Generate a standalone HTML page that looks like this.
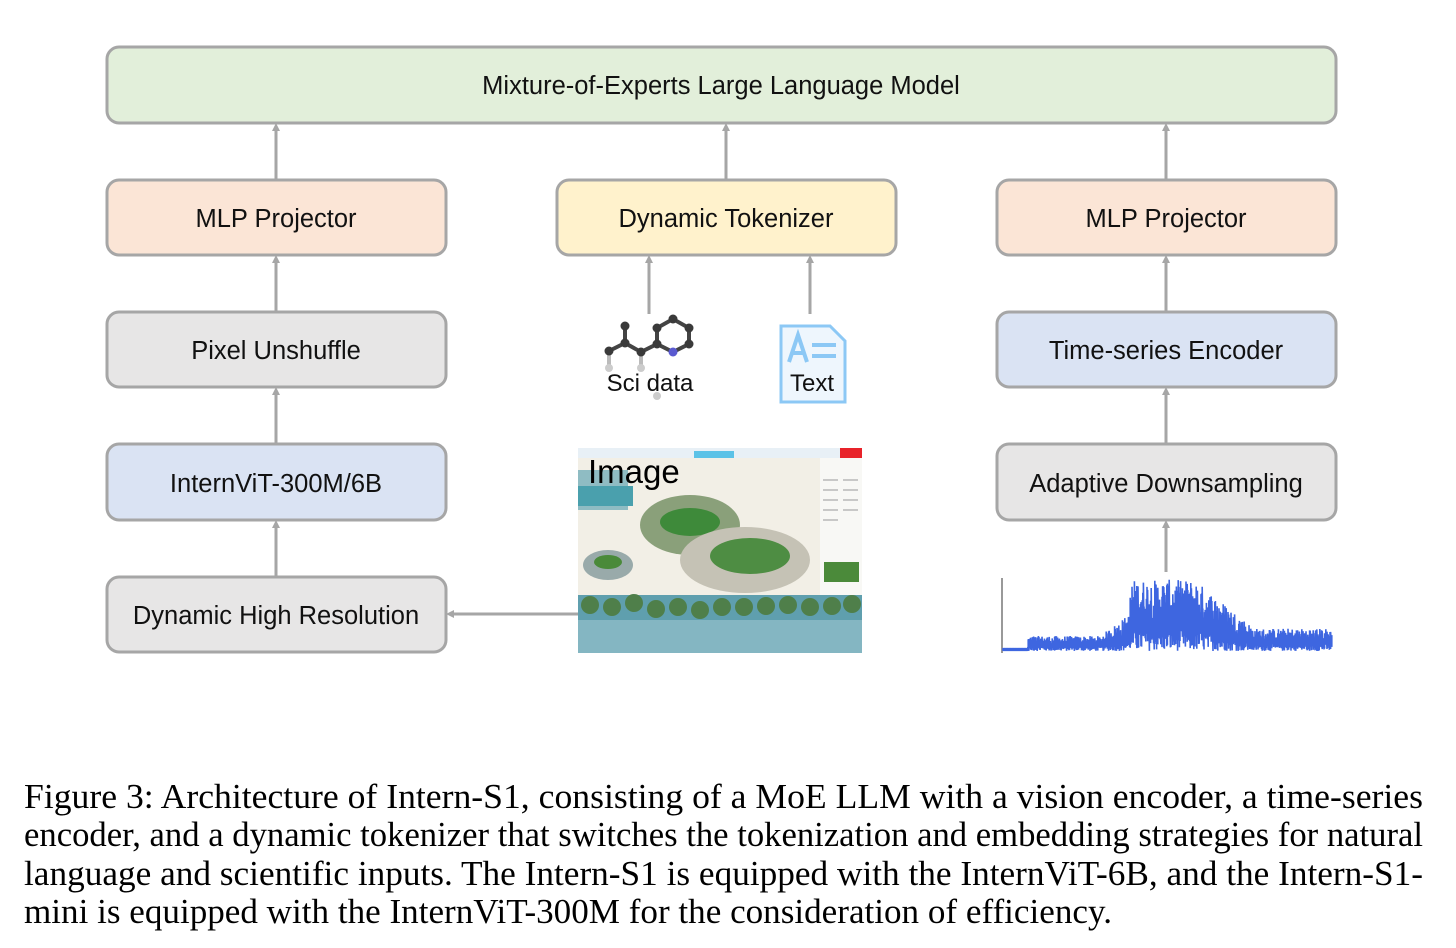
<!DOCTYPE html>
<html><head><meta charset="utf-8"><style>
html,body{margin:0;padding:0;background:#fff;}
svg{display:block}
.b{stroke:#a6a6a6;stroke-width:3}
.l{font-family:"Liberation Sans",sans-serif;font-size:25.5px;fill:#111;text-anchor:middle}
.c{font-family:"Liberation Serif",serif;font-size:35px;fill:#000}
.a{stroke:#a6a6a6;stroke-width:3;fill:none}
</style></head><body>
<svg width="1456" height="948" viewBox="0 0 1456 948" xmlns="http://www.w3.org/2000/svg">
<defs><marker id="m" markerWidth="8" markerHeight="8" refX="5" refY="4" orient="auto" markerUnits="userSpaceOnUse"><path d="M0,0 L8,4 L0,8 z" fill="#a6a6a6"/></marker></defs>
<rect x="107" y="47" width="1229" height="76" rx="12" fill="#e2efda" class="b"/>
<text x="721" y="94" class="l">Mixture-of-Experts Large Language Model</text>

<rect x="107" y="180" width="339" height="75" rx="12" fill="#fbe5d6" class="b"/>
<text x="276" y="227" class="l">MLP Projector</text>
<rect x="557" y="180" width="339" height="75" rx="12" fill="#fff2cc" class="b"/>
<text x="726" y="227" class="l">Dynamic Tokenizer</text>
<rect x="997" y="180" width="339" height="75" rx="12" fill="#fbe5d6" class="b"/>
<text x="1166" y="227" class="l">MLP Projector</text>

<rect x="107" y="312" width="339" height="75" rx="12" fill="#e7e6e6" class="b"/>
<text x="276" y="359" class="l">Pixel Unshuffle</text>
<rect x="997" y="312" width="339" height="75" rx="12" fill="#dae3f3" class="b"/>
<text x="1166" y="359" class="l">Time-series Encoder</text>

<rect x="107" y="444" width="339" height="76" rx="12" fill="#dae3f3" class="b"/>
<text x="276" y="492" class="l">InternViT-300M/6B</text>
<rect x="997" y="444" width="339" height="76" rx="12" fill="#e7e6e6" class="b"/>
<text x="1166" y="492" class="l">Adaptive Downsampling</text>

<rect x="107" y="577" width="339" height="75" rx="12" fill="#e7e6e6" class="b"/>
<text x="276" y="624" class="l">Dynamic High Resolution</text>

<!-- arrows -->
<line x1="276" y1="179" x2="276" y2="126" class="a" marker-end="url(#m)"/>
<line x1="726" y1="179" x2="726" y2="126" class="a" marker-end="url(#m)"/>
<line x1="1166" y1="179" x2="1166" y2="126" class="a" marker-end="url(#m)"/>
<line x1="276" y1="311" x2="276" y2="258" class="a" marker-end="url(#m)"/>
<line x1="276" y1="443" x2="276" y2="390" class="a" marker-end="url(#m)"/>
<line x1="276" y1="576" x2="276" y2="523" class="a" marker-end="url(#m)"/>
<line x1="1166" y1="311" x2="1166" y2="258" class="a" marker-end="url(#m)"/>
<line x1="1166" y1="443" x2="1166" y2="390" class="a" marker-end="url(#m)"/>
<line x1="1166" y1="572" x2="1166" y2="523" class="a" marker-end="url(#m)"/>
<line x1="649" y1="314" x2="649" y2="258" class="a" marker-end="url(#m)"/>
<line x1="810" y1="314" x2="810" y2="258" class="a" marker-end="url(#m)"/>
<line x1="578" y1="614" x2="449" y2="614" class="a" marker-end="url(#m)"/>

<!-- molecule -->
<g stroke="#444" stroke-width="4" fill="none">
<path d="M609,351 L625,343 L641,352 L657,344 L657,328 L673,319 L689,328 L689,344 L673,352 L657,344"/>
<path d="M625,343 L625,326"/>
<path d="M609,351 L609,368" stroke="#bbb"/><path d="M641,352 L641,368" stroke="#bbb"/>
</g>
<g fill="#3a3a3a"><circle cx="609" cy="351" r="4.5"/><circle cx="625" cy="343" r="4.5"/><circle cx="625" cy="326" r="4.5"/><circle cx="641" cy="352" r="4.5"/><circle cx="657" cy="344" r="4.5"/><circle cx="657" cy="328" r="4.5"/><circle cx="673" cy="319" r="4.5"/><circle cx="689" cy="328" r="4.5"/><circle cx="689" cy="344" r="4.5"/></g>
<circle cx="673" cy="352" r="4.5" fill="#5a5ad0"/>
<circle cx="609" cy="368" r="4" fill="#ccc"/><circle cx="641" cy="368" r="4" fill="#ccc"/><circle cx="657" cy="396" r="4" fill="#ccc"/>
<text x="650" y="391" class="l" style="font-size:24px">Sci data</text>
<!-- text doc icon -->
<path d="M781,326 L830,326 L845,341 L845,402 L781,402 Z" fill="#eef6fd" stroke="#8cc8f5" stroke-width="3"/>
<path d="M789,362 L798,335 L807,362 M792,353 L804,353" stroke="#8cc8f5" stroke-width="4" fill="none"/>
<path d="M812,345 L836,345 M812,356 L836,356" stroke="#8cc8f5" stroke-width="4"/>
<text x="812" y="391" class="l" style="font-size:24px">Text</text>

<!-- image approximation -->
<g>
<rect x="578" y="448" width="284" height="205" fill="#f2efe6"/>
<rect x="578" y="448" width="284" height="10" fill="#e8f0f6"/>
<rect x="840" y="448" width="22" height="10" fill="#e8232a"/>
<rect x="694" y="451" width="40" height="7" fill="#5bc2e7"/>
<rect x="578" y="470" width="50" height="40" fill="#8fbcc3"/>
<rect x="578" y="486" width="55" height="20" fill="#4aa0ad"/>
<rect x="820" y="458" width="42" height="150" fill="#f8f8f5"/>
<g stroke="#999" stroke-width="1"><line x1="823" y1="480" x2="838" y2="480"/><line x1="823" y1="490" x2="838" y2="490"/><line x1="823" y1="500" x2="838" y2="500"/><line x1="823" y1="510" x2="838" y2="510"/><line x1="823" y1="520" x2="838" y2="520"/><line x1="843" y1="480" x2="858" y2="480"/><line x1="843" y1="490" x2="858" y2="490"/><line x1="843" y1="500" x2="858" y2="500"/><line x1="843" y1="510" x2="858" y2="510"/></g>
<rect x="824" y="562" width="35" height="20" fill="#4b8a3a"/>
<ellipse cx="690" cy="525" rx="50" ry="30" fill="#8aa07a"/>
<ellipse cx="690" cy="522" rx="30" ry="14" fill="#3e8a3a"/>
<ellipse cx="745" cy="560" rx="65" ry="33" fill="#c5c2b5"/>
<ellipse cx="750" cy="556" rx="40" ry="18" fill="#4e8d43"/>
<ellipse cx="608" cy="565" rx="25" ry="15" fill="#9aa"/>
<ellipse cx="608" cy="562" rx="14" ry="7" fill="#4a8a3a"/>
<rect x="578" y="595" width="284" height="58" fill="#5f9fae"/>
<g fill="#4f7f4a"><circle cx="590" cy="605" r="9"/><circle cx="612" cy="607" r="9"/><circle cx="634" cy="603" r="9"/><circle cx="656" cy="609" r="9"/><circle cx="678" cy="607" r="9"/><circle cx="700" cy="610" r="9"/><circle cx="722" cy="607" r="9"/><circle cx="744" cy="607" r="9"/><circle cx="766" cy="606" r="9"/><circle cx="788" cy="605" r="9"/><circle cx="810" cy="607" r="9"/><circle cx="832" cy="606" r="9"/><circle cx="852" cy="604" r="9"/></g>
<rect x="578" y="620" width="284" height="33" fill="#9cc6cf" opacity="0.6"/>
</g>
<text x="588" y="483" style="font-family:'Liberation Sans',sans-serif;font-size:33px;fill:#000">Image</text>

<!-- time series -->
<line x1="1002" y1="578" x2="1002" y2="653" stroke="#999" stroke-width="2"/>
<path id="ts" d="" fill="none" stroke="#3e66e0" stroke-width="1.6"/>
<script>
(function(){var s=12345;function r(){s=(s*1103515245+12345)%2147483648;return s/2147483648;}
var d="M1003,650";for(var x=1003;x<=1332;x+=0.6){var amp,base=651,t;
if(x<1028){t=0;}else if(x<1100){t=0.2;}else if(x<1130){t=0.2+0.3*(x-1100)/30;}else if(x<1195){t=0.95;}else{t=0.95-0.65*Math.min(1,(x-1195)/60);if(t<0.28)t=0.28;}
amp=t*75;
var y1=base-r()*amp*0.3,y2=base-amp*(0.45+0.55*r());if(x<1028){y1=651;y2=648;}
d+=" L"+x.toFixed(1)+","+y1.toFixed(1)+" L"+x.toFixed(1)+","+y2.toFixed(1);}
document.getElementById("ts").setAttribute("d",d);})();
</script>

<!-- caption -->
<text x="24" y="808" class="c" textLength="1399" lengthAdjust="spacingAndGlyphs">Figure 3:  Architecture of Intern-S1, consisting of a MoE LLM with a vision encoder, a time-series</text>
<text x="24" y="846" class="c" textLength="1399" lengthAdjust="spacingAndGlyphs">encoder, and a dynamic tokenizer that switches the tokenization and embedding strategies for natural</text>
<text x="24" y="885" class="c" textLength="1399" lengthAdjust="spacingAndGlyphs">language and scientific inputs. The Intern-S1 is equipped with the InternViT-6B, and the Intern-S1-</text>
<text x="24" y="923" class="c" textLength="1088" lengthAdjust="spacingAndGlyphs">mini is equipped with the InternViT-300M for the consideration of efficiency.</text>
</svg>
</body></html>
